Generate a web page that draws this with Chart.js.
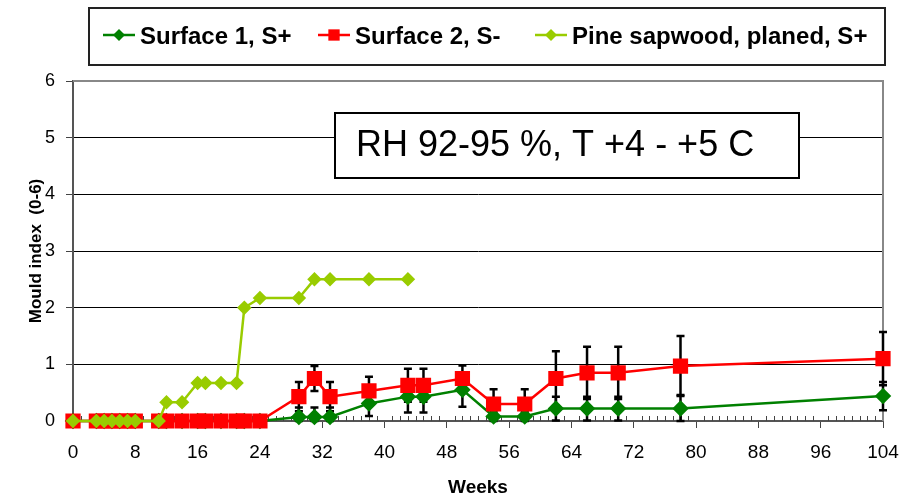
<!DOCTYPE html>
<html>
<head>
<meta charset="utf-8">
<script src="https://cdn.jsdelivr.net/npm/chart.js@4.4.1/dist/chart.umd.min.js"></script>
<style>
  body { margin: 0; background: #fff; }
  #wrap { width: 907px; height: 499px; }
</style>
</head>
<body>
<div id="wrap"><canvas id="mouldChart"></canvas></div>
<script>
// weeks of measurement
const weeks = [0, 3, 4, 5, 6, 7, 8, 11, 12, 14, 16, 17, 19, 21, 22, 24, 29, 31, 33, 38, 43, 45, 50, 54, 58, 62, 66, 70, 78, 104];
const surface1 = [0, 0, 0, 0, 0, 0, 0, 0, 0, 0, 0, 0, 0, 0, 0, 0, 0.07, 0.07, 0.07, 0.31, 0.43, 0.43, 0.55, 0.08, 0.08, 0.22, 0.22, 0.22, 0.22, 0.44];
const surface1Err = [null, null, null, null, null, null, null, null, null, null, null, null, null, null, null, null, 0.17, 0.17, 0.17, 0.22, 0.28, 0.28, 0.3, 0.08, 0.08, 0.21, 0.21, 0.21, 0.24, 0.25];
const surface2 = [0, 0, 0, 0, 0, 0, 0, 0, 0, 0, 0, 0, 0, 0, 0, 0, 0.43, 0.75, 0.43, 0.53, 0.63, 0.63, 0.75, 0.3, 0.3, 0.75, 0.85, 0.85, 0.97, 1.1];
const surface2Err = [null, null, null, null, null, null, null, null, null, null, null, null, null, null, null, null, 0.26, 0.22, 0.26, 0.25, 0.29, 0.29, 0.23, 0.26, 0.26, 0.48, 0.46, 0.46, 0.53, 0.47];

// pine reference
const pineWeeks = [0, 3, 4, 5, 6, 7, 8, 11, 12, 14, 16, 17, 19, 21, 22, 24, 29, 31, 33, 38, 43];
const pine = [0, 0, 0, 0, 0, 0, 0, 0, 0.33, 0.33, 0.67, 0.67, 0.67, 0.67, 2, 2.17, 2.17, 2.5, 2.5, 2.5, 2.5];

const seriesNames = ['Surface 1, S+', 'Surface 2, S-', 'Pine sapwood, planed, S+'];
const yTicks = [0, 1, 2, 3, 4, 5, 6];
const xTicks = [0, 8, 16, 24, 32, 40, 48, 56, 64, 72, 80, 88, 96, 104];
const note = 'RH 92-95 %, T +4 - +5 C';

const FONT = "'Liberation Sans', Arial, sans-serif";

function toPoints(xs, ys) {
    return xs.map(function(x, i) { return { x: x, y: ys[i] }; });
}

// error bars, drawn under the markers
const errorBars = {
    id: 'errorBars',
    beforeDatasetsDraw: function(chart) {
        const ctx = chart.ctx;
        const xs = chart.scales.x, ys = chart.scales.y;
        ctx.save();
        ctx.strokeStyle = '#000';
        ctx.lineWidth = 2.5;
        chart.data.datasets.forEach(function(ds) {
            if (!ds.errors) return;
            ds.data.forEach(function(p, i) {
                const e = ds.errors[i];
                if (e == null) return;
                const px = xs.getPixelForValue(p.x);
                const top = ys.getPixelForValue(p.y + e);
                const bot = ys.getPixelForValue(Math.max(0, p.y - e));
                ctx.beginPath();
                ctx.moveTo(px, top); ctx.lineTo(px, bot);
                ctx.moveTo(px - 4, top); ctx.lineTo(px + 4, top);
                ctx.moveTo(px - 4, bot); ctx.lineTo(px + 4, bot);
                ctx.stroke();
            });
        });
        ctx.restore();
    }
};

// plot frame, minor week ticks and the condition note
const frame = {
    id: 'frame',
    beforeDatasetsDraw: function(chart) {
        const ctx = chart.ctx;
        const a = chart.chartArea;
        const xs = chart.scales.x;
        ctx.save();
        ctx.strokeStyle = '#888';
        ctx.lineWidth = 2;
        ctx.beginPath();
        ctx.moveTo(a.left, a.top); ctx.lineTo(a.right, a.top); ctx.lineTo(a.right, a.bottom);
        ctx.stroke();

        ctx.strokeStyle = '#444';
        ctx.lineWidth = 1;
        ctx.beginPath();
        for (let w = 1; w < 104; w++) {
            if (w % 8 === 0) continue;
            const px = Math.round(xs.getPixelForValue(w)) + 0.5;
            ctx.moveTo(px, a.bottom); ctx.lineTo(px, a.bottom - 5);
        }
        ctx.stroke();

        // note box
        const bx = a.left + 262, by = a.top + 32, bw = 464, bh = 65;
        ctx.fillStyle = '#fff';
        ctx.fillRect(bx, by, bw, bh);
        ctx.strokeStyle = '#000';
        ctx.lineWidth = 2;
        ctx.strokeRect(bx, by, bw, bh);
        ctx.fillStyle = '#000';
        ctx.font = '36px ' + FONT;
        ctx.textBaseline = 'middle';
        ctx.textAlign = 'left';
        ctx.fillText(note, bx + 21, by + bh / 2 + 1);
        ctx.restore();
    }
};

// legend in a box with line + marker samples
const boxLegend = {
    id: 'boxLegend',
    afterDraw: function(chart) {
        const ctx = chart.ctx;
        const sampleX = [103, 318, 535];
        const y = 35;
        ctx.save();
        ctx.strokeStyle = '#222';
        ctx.lineWidth = 2;
        ctx.strokeRect(89, 8, 796, 57);
        chart.data.datasets.forEach(function(ds, i) {
            const sx = sampleX[i];
            ctx.strokeStyle = ds.borderColor;
            ctx.lineWidth = 2.5;
            ctx.beginPath();
            ctx.moveTo(sx, y); ctx.lineTo(sx + 32, y);
            ctx.stroke();
            ctx.fillStyle = ds.pointBackgroundColor;
            ctx.strokeStyle = ds.pointBackgroundColor;
            Chart.helpers.drawPoint(ctx, {
                pointStyle: ds.pointStyle,
                radius: ds.legendRadius,
                rotation: 0,
                borderWidth: 0
            }, sx + 16, y);
            ctx.fillStyle = '#000';
            ctx.font = 'bold 24px ' + FONT;
            ctx.textBaseline = 'middle';
            ctx.textAlign = 'left';
            ctx.fillText(ds.label, sx + 37, y + 2);
        });
        ctx.restore();
    }
};

document.addEventListener('DOMContentLoaded', function() {
    const ctx = document.getElementById('mouldChart').getContext('2d');
    new Chart(ctx, {
        type: 'line',
        data: {
            datasets: [{
                label: seriesNames[0],
                data: toPoints(weeks, surface1),
                errors: surface1Err,
                borderColor: '#008000',
                backgroundColor: '#008000',
                pointBackgroundColor: '#008000',
                pointBorderColor: '#008000',
                pointStyle: 'rectRot',
                pointRadius: 6.5,
                legendRadius: 6,
                borderWidth: 2.5,
                clip: false,
                order: 3
            }, {
                label: seriesNames[1],
                data: toPoints(weeks, surface2),
                errors: surface2Err,
                borderColor: '#ff0000',
                backgroundColor: '#ff0000',
                pointBackgroundColor: '#ff0000',
                pointBorderColor: '#ff0000',
                pointStyle: 'rect',
                pointRadius: 9,
                legendRadius: 8,
                borderWidth: 2.5,
                clip: false,
                order: 2
            }, {
                label: seriesNames[2],
                data: toPoints(pineWeeks, pine),
                borderColor: '#99cc00',
                backgroundColor: '#99cc00',
                pointBackgroundColor: '#99cc00',
                pointBorderColor: '#99cc00',
                pointStyle: 'rectRot',
                pointRadius: 5.5,
                legendRadius: 6,
                borderWidth: 2.5,
                clip: false,
                order: 1
            }]
        },
        options: {
            responsive: true,
            maintainAspectRatio: false,
            animation: false,
            layout: { padding: { top: 81, right: 24, left: 0, bottom: 0 } },
            elements: { line: { tension: 0 }, point: { borderWidth: 1, hoverRadius: 6 } },
            plugins: {
                legend: { display: false },
                tooltip: { enabled: false }
            },
            scales: {
                x: {
                    type: 'linear',
                    min: 0,
                    max: 104,
                    afterBuildTicks: function(scale) {
                        scale.ticks = xTicks.map(function(v) { return { value: v }; });
                    },
                    afterFit: function(scale) {
                        scale.height = 78;
                        scale.paddingRight = 0;
                        scale.paddingLeft = 0;
                    },
                    ticks: {
                        color: '#000',
                        font: { family: FONT, size: 19 },
                        padding: 13,
                        maxRotation: 0,
                        autoSkip: false
                    },
                    grid: {
                        drawOnChartArea: false,
                        color: '#444',
                        tickLength: 7,
                        lineWidth: 1
                    },
                    border: { color: '#555', width: 2 },
                    title: {
                        display: true,
                        text: 'Weeks',
                        color: '#000',
                        font: { family: FONT, size: 19, weight: 'bold' },
                        padding: { top: 0, bottom: 0 }
                    }
                },
                y: {
                    min: 0,
                    max: 6,
                    afterBuildTicks: function(scale) {
                        scale.ticks = yTicks.map(function(v) { return { value: v }; });
                    },
                    afterFit: function(scale) { scale.width = 73; },
                    ticks: {
                        color: '#000',
                        font: { family: FONT, size: 18 },
                        padding: 11
                    },
                    grid: {
                        color: function(c) { return c.tick && c.tick.value === 6 ? '#888' : '#000'; },
                        tickColor: '#444',
                        tickLength: 7,
                        lineWidth: 1
                    },
                    border: { color: '#555', width: 2 },
                    title: {
                        display: true,
                        text: 'Mould index  (0-6)',
                        color: '#000',
                        font: { family: FONT, size: 17, weight: 'bold' },
                        padding: { top: 26, bottom: 0 }
                    }
                }
            }
        },
        plugins: [frame, errorBars, boxLegend]
    });
});
</script>
</body>
</html>
